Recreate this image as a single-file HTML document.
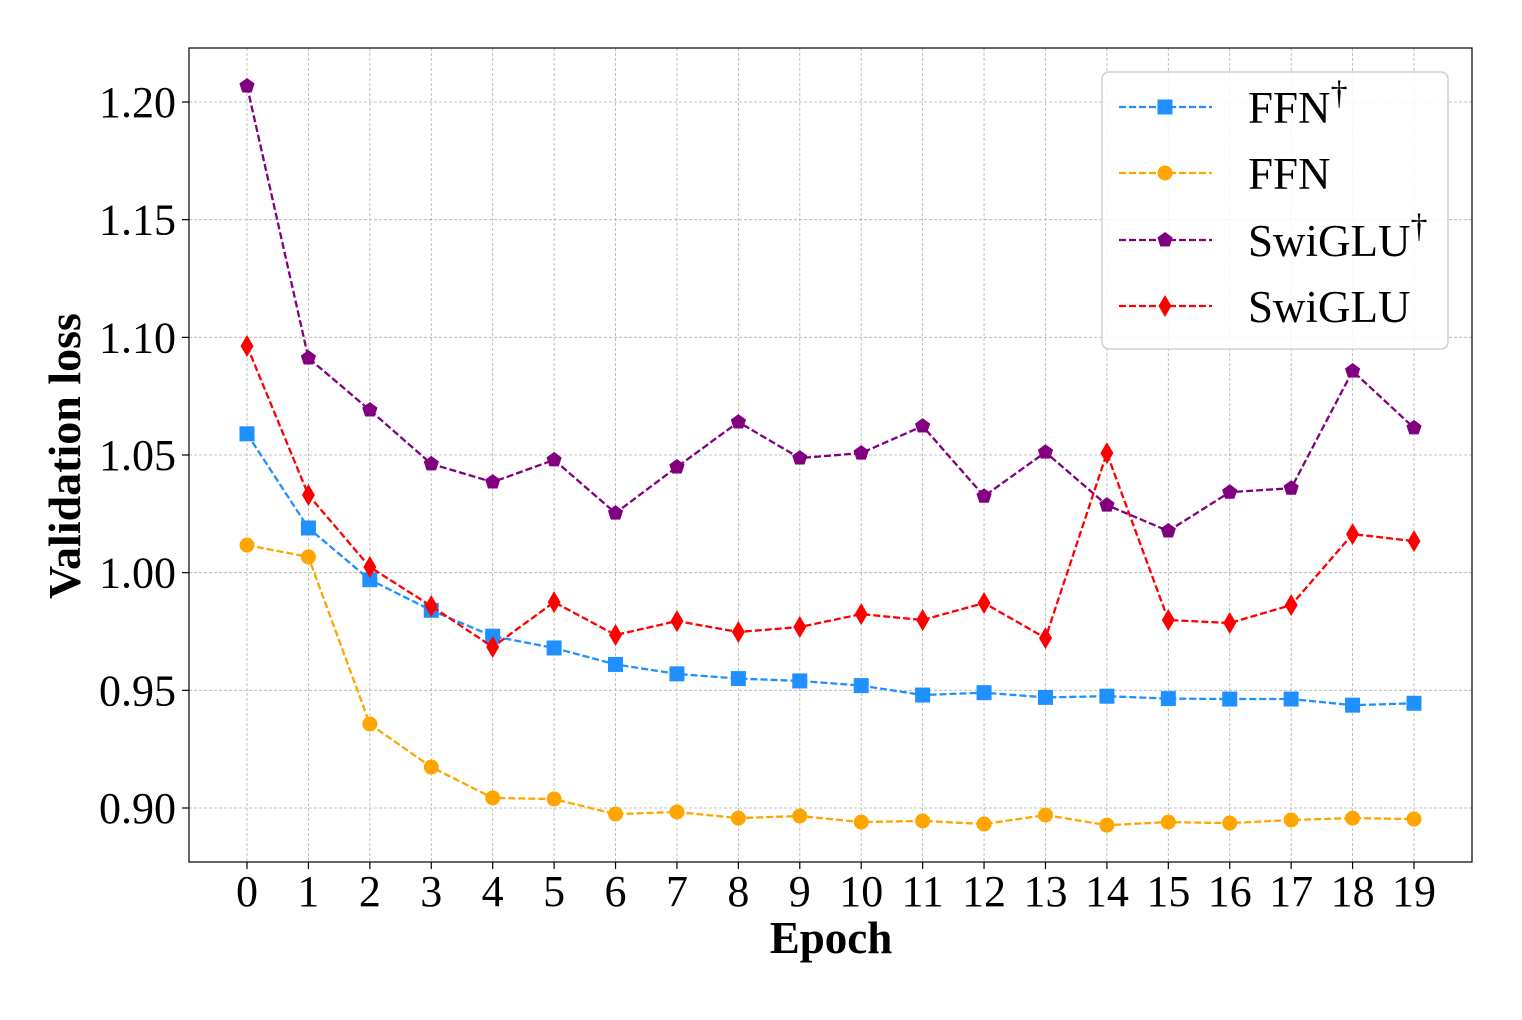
<!DOCTYPE html>
<html><head><meta charset="utf-8"><style>
html,body{margin:0;padding:0;background:#fff;}
svg text{font-family:"Liberation Serif",serif;}
</style></head><body>
<svg id="chart" width="1522" height="1015" xmlns="http://www.w3.org/2000/svg"></svg>
<script>
const epochs=[0,1,2,3,4,5,6,7,8,9,10,11,12,13,14,15,16,17,18,19];
const ffnDagger=[1.059,1.019,0.997,0.984,0.973,0.968,0.961,0.957,0.955,0.954,0.952,0.948,0.949,0.947,0.9475,0.9465,0.9463,0.9463,0.9437,0.9445];
const ffn=[1.0117,1.0067,0.9357,0.9174,0.9043,0.9038,0.8974,0.8983,0.8957,0.8966,0.894,0.8945,0.8932,0.897,0.8927,0.894,0.8936,0.8949,0.8957,0.8953];
const swigluDagger=[1.2068,1.0912,1.0691,1.0462,1.0385,1.0479,1.0253,1.0449,1.064,1.0487,1.0508,1.0623,1.0325,1.0512,1.0287,1.0177,1.0342,1.0359,1.0857,1.0615];
const swiglu=[1.0963,1.033,1.0024,0.9858,0.9684,0.9875,0.9735,0.9794,0.9748,0.9769,0.9824,0.9799,0.9871,0.9722,1.0508,0.9799,0.9786,0.9862,1.0164,1.0134];
const yTicks=[0.90,0.95,1.00,1.05,1.10,1.15,1.20];
const yTickLabels=["0.90","0.95","1.00","1.05","1.10","1.15","1.20"];

const NS="http://www.w3.org/2000/svg";
const svg=document.getElementById('chart');
const L=189,R=1472,T=48,B=862;
function xs(i){return 247+(1414-247)*i/19;}
function ys(v){return 102+(1.20-v)/0.30*(808-102);}
function mk(tag,attrs,parent){const e=document.createElementNS(NS,tag);for(const k in attrs)e.setAttribute(k,attrs[k]);(parent||svg).appendChild(e);return e;}

const grid=mk('g',{});


epochs.forEach(i=>{mk('line',{x1:xs(i),x2:xs(i),y1:T,y2:B,stroke:'#b0b0b0','stroke-width':0.8,'stroke-dasharray':'3,2'},grid);});
yTicks.forEach(v=>{mk('line',{x1:L,x2:R,y1:ys(v),y2:ys(v),stroke:'#b0b0b0','stroke-width':0.8,'stroke-dasharray':'3,2'},grid);});

const xax=mk('g',{});


epochs.forEach(i=>{
  mk('line',{x1:xs(i),x2:xs(i),y1:B,y2:B+7,stroke:'#000','stroke-width':1.2},xax);
  const t=mk('text',{x:xs(i),y:906,'text-anchor':'middle','font-size':44},xax);t.textContent=String(i);
});
const yax=mk('g',{});


yTicks.forEach((v,k)=>{
  mk('line',{x1:L-7,x2:L,y1:ys(v),y2:ys(v),stroke:'#000','stroke-width':1.2},yax);
  const t=mk('text',{x:176,y:ys(v)+15,'text-anchor':'end','font-size':44},yax);t.textContent=yTickLabels[k];
});
const xt=mk('text',{x:831,y:953,'text-anchor':'middle','font-size':45,'font-weight':'bold'});
xt.textContent='Epoch';


const yt=mk('text',{x:0,y:0,transform:'translate(80,456) rotate(-90)','text-anchor':'middle','font-size':46,'font-weight':'bold'});
yt.textContent='Validation loss';



function marker(type,x,y,color,parent){
  if(type==='square') return mk('rect',{x:x-7.5,y:y-7.5,width:15,height:15,fill:color},parent);
  if(type==='circle') return mk('circle',{cx:x,cy:y,r:7.5,fill:color},parent);
  if(type==='pentagon'){let p=[];for(let k=0;k<5;k++){const a=-Math.PI/2+k*2*Math.PI/5;p.push((x+8*Math.cos(a)).toFixed(1)+','+(y+8*Math.sin(a)).toFixed(1));}return mk('polygon',{points:p.join(' '),fill:color},parent);}
  if(type==='diamond') return mk('polygon',{points:`${x},${y-11} ${x+6.5},${y} ${x},${y+11} ${x-6.5},${y}`,fill:color},parent);
}
const series=[
 {name:'ffn-dagger',data:ffnDagger,color:'#1e90ff',m:'square'},
 {name:'ffn',data:ffn,color:'#ffa500',m:'circle'},
 {name:'swiglu-dagger',data:swigluDagger,color:'#800080',m:'pentagon'},
 {name:'swiglu',data:swiglu,color:'#ff0000',m:'diamond'}
];
series.forEach(s=>{
  const g=mk('g',{});
  
  
  const pts=s.data.map((v,i)=>xs(epochs[i]).toFixed(1)+','+ys(v).toFixed(1)).join(' ');
  mk('polyline',{points:pts,fill:'none',stroke:s.color,'stroke-width':2.3,'stroke-dasharray':'7,3'},g);
  s.data.forEach((v,i)=>{const e=marker(s.m,xs(epochs[i]),ys(v),s.color,g);
    
    });
});
const fr=mk('rect',{x:L,y:T,width:R-L,height:B-T,fill:'none',stroke:'#000','stroke-width':1.2});



const lg=mk('g',{});


mk('rect',{x:1102,y:72,width:346,height:277,rx:7,fill:'#fff','fill-opacity':0.85,stroke:'#d0d0d0','stroke-width':1.5},lg);
const labels=[['FFN',true],['FFN',false],['SwiGLU',true],['SwiGLU',false]];
const ly=[107,173,240,306];
series.forEach((s,k)=>{
  const e=mk('g',{},lg);
  
  
  mk('line',{x1:1119,x2:1212,y1:ly[k],y2:ly[k],stroke:s.color,'stroke-width':2.3,'stroke-dasharray':'7,3'},e);
  marker(s.m,1165,ly[k],s.color,e);
  const t=mk('text',{x:1248,y:ly[k]+16,'font-size':45},e);
  t.textContent=labels[k][0];
  if(labels[k][1]){const ts=mk('tspan',{dy:-19,'font-size':34},t);ts.textContent='†';}
});
</script>
</body></html>
